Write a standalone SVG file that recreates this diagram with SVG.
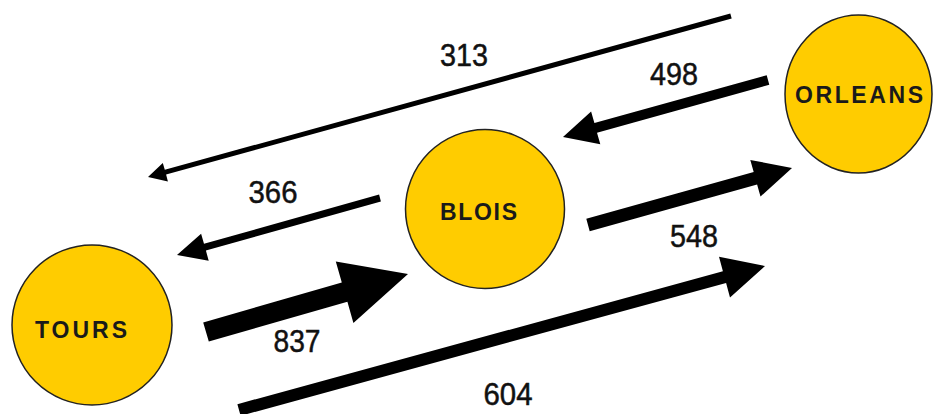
<svg xmlns="http://www.w3.org/2000/svg" width="933" height="414" viewBox="0 0 933 414">
<style>
.city{fill:#FFCC00;stroke:#222;stroke-width:1.5}
.name{font-family:"Liberation Sans",Arial,sans-serif;font-weight:bold;font-size:23px;fill:#1a1a1a;text-anchor:middle}
.num{font-family:"Liberation Sans",Arial,sans-serif;font-size:32px;fill:#111;stroke:#111;stroke-width:0.5;text-anchor:middle}
.arrow{fill:#000;stroke:none}
</style>
<rect width="933" height="414" fill="#fff"/>
<g id="connectors">
<polygon class="arrow" points="730.3,13.6 164.8,169.8 162.8,163.0 148,177 167.9,181.4 166.1,174.6 731.7,18.4"/>
<polygon class="arrow" points="766.7,75.2 594.4,123.1 591.1,111.5 563,137 600.3,144.3 597.0,132.7 769.3,84.8"/>
<polygon class="arrow" points="379.1,194.6 204.0,243.8 201.1,233.7 177,255 208.7,260.7 205.9,250.6 380.9,201.4"/>
<polygon class="arrow" points="203.2,322.4 341.8,282.6 335.8,261.4 408,274 353.4,323.0 347.4,301.8 208.8,341.6"/>
<polygon class="arrow" points="586.3,218.7 753.7,171.9 750.3,159.9 792,168 760.5,196.5 757.1,184.5 589.7,231.3"/>
<polygon class="arrow" points="237.4,404.2 722.9,271.3 719.0,256.8 765,266 730.0,297.4 726.1,282.9 240.6,415.8"/>
<text class="num" x="464" y="66" textLength="48" lengthAdjust="spacingAndGlyphs">313</text>
<text class="num" x="674" y="85" textLength="48" lengthAdjust="spacingAndGlyphs">498</text>
<text class="num" x="273" y="203" textLength="49" lengthAdjust="spacingAndGlyphs">366</text>
<text class="num" x="297" y="352" textLength="47" lengthAdjust="spacingAndGlyphs">837</text>
<text class="num" x="694" y="247" textLength="48" lengthAdjust="spacingAndGlyphs">548</text>
<text class="num" x="508" y="405" textLength="49" lengthAdjust="spacingAndGlyphs">604</text>
</g>
<g id="tours">
<circle class="city" cx="92" cy="325" r="80"/>
<text class="name" x="81" y="338" textLength="92" lengthAdjust="spacing">TOURS</text>
</g>
<g id="blois">
<circle class="city" cx="485" cy="209" r="79.5"/>
<text class="name" x="478.5" y="220" textLength="77" lengthAdjust="spacing">BLOIS</text>
</g>
<g id="orleans">
<ellipse class="city" cx="858.5" cy="94" rx="73.5" ry="79"/>
<text class="name" x="859" y="103" textLength="128" lengthAdjust="spacing">ORLEANS</text>
</g>
</svg>
